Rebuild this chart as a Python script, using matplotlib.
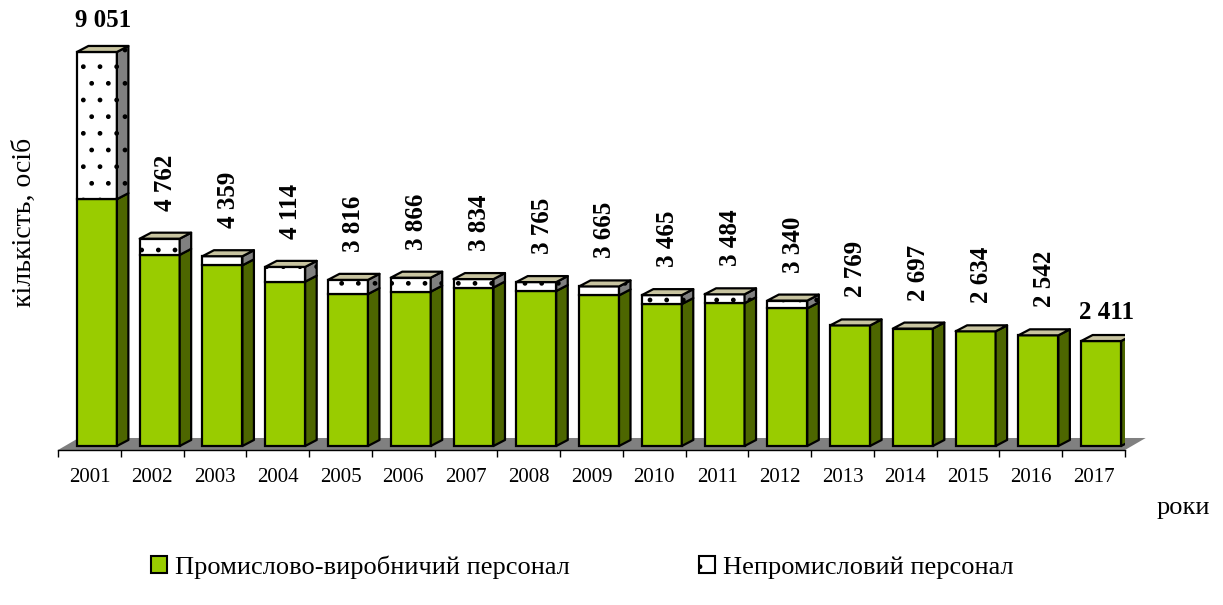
import matplotlib.pyplot as plt
from matplotlib.patches import Polygon, Patch

# data
years = ['2001', '2002', '2003', '2004', '2005', '2006', '2007', '2008', '2009',
         '2010', '2011', '2012', '2013', '2014', '2015', '2016', '2017']
totals = [9051, 4762, 4359, 4114, 3816, 3866, 3834, 3765, 3665,
          3465, 3484, 3340, 2769, 2697, 2634, 2542, 2411]
industrial = [5670, 4390, 4150, 3775, 3490, 3545, 3640, 3560, 3460,
              3260, 3280, 3160, 2769, 2697, 2634, 2542, 2411]
value_labels = ['9 051', '4 762', '4 359', '4 114', '3 816', '3 866', '3 834', '3 765', '3 665',
                '3 465', '3 484', '3 340', '2 769', '2 697', '2 634', '2 542', '2 411']
series_names = ['Промислово-виробничий персонал', 'Непромисловий персонал']

plt.rcParams['font.family'] = ['Liberation Serif', 'DejaVu Serif']
plt.rcParams['hatch.linewidth'] = 1.0

GREEN = '#99cc00'
GREEN_SIDE = '#4d6600'
TOP = '#c8c4a0'
GREY = '#808080'

fig = plt.figure(figsize=(12.23, 6.05), dpi=100)
ax = fig.add_axes([58 / 1223, 155 / 605, 1067 / 1223, 410 / 605])
ymin, ymax = -92, 9326
ax.set_xlim(-0.5, 16.5)
ax.set_ylim(ymin, ymax)

# 3d depth (data units)
dx, dy = 0.183, 138
fdx, fdy = 0.33, 276
off, w = 0.12, 0.637
n = len(years)

# floor
ax.add_patch(Polygon([(-0.5, ymin), (16.5, ymin), (16.5 + fdx, ymin + fdy),
                      (-0.5 + fdx, ymin + fdy)], closed=True,
                     facecolor=GREY, edgecolor='none', zorder=1, clip_on=False))


def box(x0, b, t, front, side, top_col, hatch, z, draw_top):
    ax.bar(x0 + w / 2, t - b, w, bottom=b, color=front, edgecolor='black',
           linewidth=1.6, hatch=hatch, zorder=z)
    xr = x0 + w
    ax.add_patch(Polygon([(xr, b), (xr + dx, b + dy), (xr + dx, t + dy), (xr, t)],
                         closed=True, facecolor=side, edgecolor='black',
                         linewidth=1.6, hatch=hatch, zorder=z, joinstyle='round'))
    if draw_top:
        ax.add_patch(Polygon([(x0, t), (x0 + dx, t + dy), (xr + dx, t + dy), (xr, t)],
                             closed=True, facecolor=top_col, edgecolor='black',
                             linewidth=1.6, zorder=z, joinstyle='round'))


for i in range(n):
    x0 = i + off - w / 2
    g, tot = industrial[i], totals[i]
    has_top = tot > g
    box(x0, 0, g, GREEN, GREEN_SIDE, TOP, None, 3, not has_top)
    if has_top:
        box(x0, g, tot, 'white', GREY, TOP, '.', 4, True)

    xc = i + off + dx / 2
    if i == 0 or i == n - 1:
        ax.annotate(value_labels[i], (xc, tot), xytext=(0, 20 if i == 0 else 17),
                    textcoords='offset pixels', ha='center', va='bottom',
                    fontsize=18, fontweight='bold', zorder=6)
    else:
        ax.annotate(value_labels[i], (xc, tot), xytext=(0, 28),
                    textcoords='offset pixels', ha='center', va='bottom',
                    rotation=90, fontsize=18, fontweight='bold', zorder=6)

# axes styling
for s in ['left', 'right', 'top']:
    ax.spines[s].set_visible(False)
ax.spines['bottom'].set_linewidth(1.0)
ax.spines['bottom'].set_zorder(2)
ax.set_yticks([])
ax.set_xticks([i - 0.5 for i in range(n + 1)])
ax.set_xticklabels([])
ax.set_xticks(range(n), minor=True)
ax.set_xticklabels(years, minor=True, fontsize=15)
ax.tick_params(axis='x', which='major', direction='out', length=5, width=1)
ax.tick_params(axis='x', which='minor', length=0, pad=13)

fig.text(24 / 1223, 1 - 222 / 605, 'кількість, осіб', rotation=90,
         ha='center', va='center', fontsize=20)
fig.text(1183 / 1223, 1 - 508 / 605, 'роки', ha='center', va='center', fontsize=19)

handles = [Patch(facecolor=GREEN, edgecolor='black', linewidth=1.5),
           Patch(facecolor='white', edgecolor='black', linewidth=1.5, hatch='.')]
fig.legend(handles, series_names, loc='center', bbox_to_anchor=(582 / 1223, 1 - 567 / 605),
           ncol=2, frameon=False, fontsize=19, handlelength=0.6, handleheight=0.6,
           handletextpad=0.3, columnspacing=4.9)

fig.savefig('out.png', dpi=100)
